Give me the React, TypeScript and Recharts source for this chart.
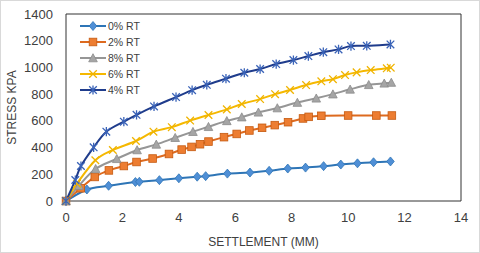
import { LineChart, Line, XAxis, YAxis, ReferenceLine, Legend } from "recharts"

// settlement (mm) / stress (kPa)
const rt0Settlement = [0, 0.74, 1.51, 2.46, 2.6, 3.31, 4.0, 4.65, 4.95, 5.72, 6.52, 7.2, 7.86, 8.49, 9.13, 9.74, 10.33, 10.9, 11.5]
const rt0Stress = [0, 86, 114, 142, 144, 156, 170, 182, 186, 205, 213, 226, 243, 250, 261, 273, 282, 290, 296]

const rt2Settlement = [0, 0.52, 1.02, 1.52, 2.05, 2.5, 3.07, 3.65, 4.1, 4.45, 4.75, 5.05, 5.6, 6.05, 6.5, 6.95, 7.4, 7.87, 8.4, 8.6, 9.05, 10.0, 11.0, 11.55]
const rt2Stress = [0, 95, 180, 229, 262, 292, 318, 352, 385, 405, 425, 445, 478, 502, 528, 548, 568, 590, 618, 630, 638, 640, 640, 640]

const rt8Settlement = [0, 0.46, 1.05, 1.8, 2.52, 3.2, 3.87, 4.5, 5.05, 5.7, 6.23, 6.82, 7.49, 8.2, 8.87, 9.46, 10.07, 10.73, 11.28, 11.53]
const rt8Stress = [0, 115, 241, 316, 382, 424, 474, 519, 556, 600, 628, 664, 696, 737, 769, 800, 836, 870, 881, 887]

const rt6Settlement = [0, 0.39, 1.04, 1.66, 2.48, 3.1, 3.75, 4.4, 5.05, 5.7, 6.23, 6.88, 7.41, 7.94, 8.51, 9.05, 9.46, 9.89, 10.3, 10.8, 11.37, 11.51]
const rt6Stress = [0, 130, 305, 382, 449, 519, 553, 602, 644, 686, 726, 763, 800, 831, 868, 896, 912, 943, 963, 980, 993, 998]

const rt4Settlement = [0, 0.33, 0.53, 0.98, 1.43, 2.05, 2.5, 3.12, 3.9, 4.47, 4.99, 5.67, 6.32, 6.88, 7.45, 8.06, 8.59, 9.12, 9.66, 10.1, 10.66, 11.5]
const rt4Stress = [0, 157, 262, 402, 519, 594, 645, 708, 778, 830, 870, 916, 960, 988, 1025, 1055, 1085, 1114, 1135, 1160, 1162, 1172]

const xTicks = [0, 2, 4, 6, 8, 10, 12, 14]
const yTicks = [0, 200, 400, 600, 800, 1000, 1200, 1400]

const toPoints = (xs: number[], ys: number[]) => xs.map((x, i) => ({ x, y: ys[i] }))

// Excel-like smoothed line (Catmull-Rom through every point)
const smoothCurve: any = (ctx: any) => {
  let pts: [number, number][] = []
  return {
    areaStart() {},
    areaEnd() {},
    lineStart() {
      pts = []
    },
    point(x: number, y: number) {
      pts.push([+x, +y])
    },
    lineEnd() {
      if (!pts.length) return
      ctx.moveTo(pts[0][0], pts[0][1])
      for (let i = 0; i < pts.length - 1; i++) {
        const p0 = pts[i - 1] || pts[i]
        const p1 = pts[i]
        const p2 = pts[i + 1]
        const p3 = pts[i + 2] || p2
        ctx.bezierCurveTo(
          p1[0] + (p2[0] - p0[0]) / 6,
          p1[1] + (p2[1] - p0[1]) / 6,
          p2[0] - (p3[0] - p1[0]) / 6,
          p2[1] - (p3[1] - p1[1]) / 6,
          p2[0],
          p2[1]
        )
      }
    },
  }
}

type Shape = "diamond" | "square" | "triangle" | "cross" | "star"

function marker(shape: Shape, cx: number, cy: number, fill: string, stroke: string, key?: string) {
  const s = 3.8
  switch (shape) {
    case "diamond":
      return <path key={key} d={`M${cx},${cy - s - 0.7}L${cx + s},${cy}L${cx},${cy + s + 0.7}L${cx - s},${cy}Z`} fill={fill} stroke={stroke} strokeWidth={0.8} />
    case "square":
      return <rect key={key} x={cx - s} y={cy - s} width={s * 2} height={s * 2} fill={fill} stroke={stroke} strokeWidth={0.8} />
    case "triangle":
      return <path key={key} d={`M${cx},${cy - s - 0.5}L${cx + s + 0.5},${cy + s}L${cx - s - 0.5},${cy + s}Z`} fill={fill} stroke={stroke} strokeWidth={0.8} />
    case "cross":
      return (
        <path key={key} d={`M${cx - s},${cy - s}L${cx + s},${cy + s}M${cx - s},${cy + s}L${cx + s},${cy - s}`} stroke={fill} strokeWidth={1.3} fill="none" />
      )
    default:
      return (
        <path
          key={key}
          d={`M${cx - s},${cy - s}L${cx + s},${cy + s}M${cx - s},${cy + s}L${cx + s},${cy - s}M${cx},${cy - s - 0.8}L${cx},${cy + s + 0.8}`}
          stroke={fill}
          strokeWidth={1.3}
          fill="none"
        />
      )
  }
}

const series = [
  { name: "0% RT", data: toPoints(rt0Settlement, rt0Stress), line: "#2E75B6", fill: "#4F8FD6", edge: "#2E75B6", shape: "diamond" as Shape },
  { name: "2% RT", data: toPoints(rt2Settlement, rt2Stress), line: "#DD6A1F", fill: "#ED7D31", edge: "#C55A11", shape: "square" as Shape },
  { name: "8% RT", data: toPoints(rt8Settlement, rt8Stress), line: "#969696", fill: "#A5A5A5", edge: "#8C8C8C", shape: "triangle" as Shape },
  { name: "6% RT", data: toPoints(rt6Settlement, rt6Stress), line: "#F5B800", fill: "#F0B400", edge: "#F0B400", shape: "cross" as Shape },
  { name: "4% RT", data: toPoints(rt4Settlement, rt4Stress), line: "#1F3C8C", fill: "#3A63B8", edge: "#3A63B8", shape: "star" as Shape },
]

function LegendBox() {
  return (
    <div style={{ fontSize: 10.5, color: "#404040", lineHeight: "16px" }}>
      {series.map((s) => (
        <div key={s.name} style={{ display: "flex", alignItems: "center", height: 16 }}>
          <svg width={28} height={12} style={{ marginRight: 1 }}>
            <line x1={1} y1={6} x2={27} y2={6} stroke={s.line} strokeWidth={2} />
            {marker(s.shape, 14, 6, s.fill, s.edge)}
          </svg>
          <span>{s.name}</span>
        </div>
      ))}
    </div>
  )
}

export default function App() {
  return (
    <div style={{ position: "relative", width: 480, height: 253, fontFamily: "'Liberation Sans', Arial, sans-serif", background: "#fff" }}>
      <style>{`body{margin:0}`}</style>
      <LineChart width={480} height={253} margin={{ top: 14, right: 19, bottom: 0, left: 0 }}>
        <XAxis
          type="number"
          dataKey="x"
          domain={[0, 14]}
          ticks={xTicks}
          allowDuplicatedCategory={false}
          height={52}
          tickLine={false}
          tickSize={0}
          tickMargin={12}
          axisLine={{ stroke: "#333" }}
          tick={{ fontSize: 13, fill: "#404040" }}
          label={{ value: "SETTLEMENT (MM)", position: "insideBottom", offset: 7, style: { fontSize: 12, fill: "#404040" } }}
        />
        <YAxis
          type="number"
          domain={[0, 1400]}
          ticks={yTicks}
          width={66}
          tickLine={false}
          tickSize={0}
          tickMargin={13}
          axisLine={{ stroke: "#333" }}
          tick={{ fontSize: 13, fill: "#404040" }}
          label={{ value: "STRESS KPA", angle: -90, position: "insideLeft", offset: 12, style: { fontSize: 12, fill: "#404040", textAnchor: "middle" } }}
        />
        <ReferenceLine y={1400} stroke="#333" />
        <ReferenceLine x={14} stroke="#333" />
        {series.map((s) => (
          <Line
            key={s.name}
            name={s.name}
            data={s.data}
            dataKey="y"
            type={smoothCurve}
            stroke={s.line}
            strokeWidth={2}
            isAnimationActive={false}
            activeDot={false}
            dot={(p: any) => marker(s.shape, p.cx, p.cy, s.fill, s.edge, `${s.name}-${p.index}`)}
          />
        ))}
        <Legend layout="vertical" align="center" verticalAlign="middle" content={() => <LegendBox />} wrapperStyle={{ left: 79, top: 18, width: 80 }} />
      </LineChart>
      <div style={{ position: "absolute", inset: 0, border: "1px solid #D9D9D9", pointerEvents: "none" }} />
    </div>
  )
}
